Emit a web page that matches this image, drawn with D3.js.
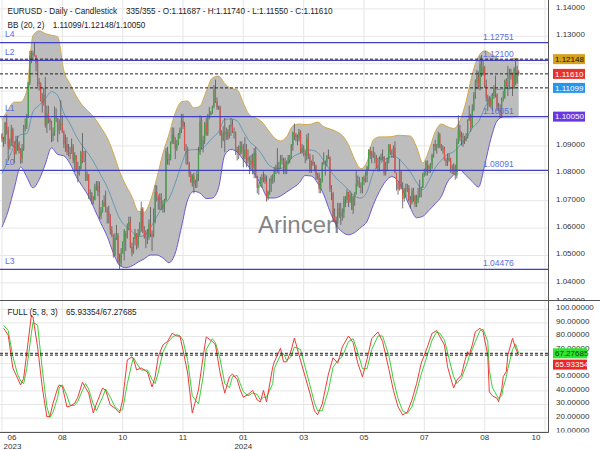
<!DOCTYPE html>
<html><head><meta charset="utf-8">
<script src="https://cdn.jsdelivr.net/npm/d3@7"></script>
<style>html,body{margin:0;padding:0;background:#fff;}svg{display:block;font-family:"Liberation Sans",Arial,sans-serif;}</style>
</head><body><svg id="c" width="600" height="450"></svg>
<script>
// ---------- data ----------
const firstOpen = 1.0940;
const highs = [
1.0945,1.0931,1.0985,1.1012,1.0968,1.0925,1.0975,1.0965,1.0915,1.0935,
1.0935,1.0915,1.0890,1.0905,1.0975,1.0998,1.1015,1.1130,1.1245,1.1245,
1.1245,1.1276,1.1230,1.1210,1.1145,1.1130,1.1090,1.1110,1.1150,1.1045,
1.1045,1.1000,1.0990,1.0965,1.1042,1.1035,1.1000,1.0995,1.1065,1.1010,
1.0955,1.0940,1.0930,1.0905,1.0895,1.0925,1.0905,1.0875,1.0865,1.0840,
1.0825,1.0880,1.0945,1.0880,1.0880,1.0805,1.0795,1.0740,1.0730,1.0715,
1.0760,1.0770,1.0770,1.0768,1.0675,1.0700,1.0718,1.0735,1.0675,1.0680,
1.0650,1.0605,1.0575,1.0580,1.0610,1.0580,1.0505,1.0525,1.0550,1.0595,
1.0580,1.0615,1.0640,1.0640,1.0545,1.0565,1.0595,1.0580,1.0595,1.0620,
1.0695,1.0675,1.0605,1.0590,1.0595,1.0630,1.0675,1.0590,1.0670,1.0755,
1.0755,1.0710,1.0725,1.0725,1.0700,1.0705,1.0890,1.0895,1.0870,1.0915,
1.0965,1.0965,1.0930,1.0920,1.0945,1.0965,1.1015,1.1015,1.0985,1.0905,
1.0895,1.0840,1.0805,1.0795,1.0800,1.0775,1.0810,1.0895,1.1010,1.1005,
1.0935,1.0985,1.1000,1.1015,1.1040,1.1025,1.1045,1.1120,1.1140,1.1075,
1.1045,1.1045,1.0955,1.0970,1.1000,1.0965,1.0960,1.0975,1.1000,1.0995,
1.0965,1.0950,1.0895,1.0900,1.0915,1.0915,1.0905,1.0930,1.0905,1.0885,
1.0860,1.0865,1.0870,1.0890,1.0895,1.0790,1.0765,1.0785,1.0795,1.0805,
1.0795,1.0790,1.0735,1.0780,1.0790,1.0795,1.0820,1.0830,1.0890,1.0840,
1.0865,1.0865,1.0855,1.0855,1.0845,1.0865,1.0865,1.0905,1.0950,1.0980,
1.0945,1.0940,1.0960,1.0955,1.0905,1.0900,1.0880,1.0940,1.0945,1.0870,
1.0845,1.0865,1.0840,1.0830,1.0800,1.0800,1.0780,1.0840,1.0875,1.0845,
1.0865,1.0885,1.0860,1.0755,1.0730,1.0670,1.0640,1.0690,1.0690,1.0690,
1.0670,1.0715,1.0715,1.0740,1.0730,1.0735,1.0725,1.0715,1.0730,1.0810,
1.0790,1.0785,1.0765,1.0785,1.0790,1.0805,1.0825,1.0885,1.0895,1.0880,
1.0895,1.0875,1.0865,1.0855,1.0860,1.0870,1.0885,1.0860,1.0840,1.0855,
1.0905,1.0895,1.0885,1.0900,1.0915,1.0800,1.0770,1.0850,1.0810,1.0765,
1.0745,1.0760,1.0760,1.0755,1.0715,1.0745,1.0745,1.0720,1.0720,1.0745,
1.0775,1.0750,1.0800,1.0815,1.0845,1.0845,1.0830,1.0835,1.0870,1.0905,
1.0920,1.0905,1.0950,1.0945,1.0905,1.0900,1.0895,1.0855,1.0870,1.0870,
1.0845,1.0830,1.0835,1.0830,1.0925,1.1010,1.0975,1.0950,1.0945,1.0935,
1.0945,1.0995,1.1045,1.1015,1.1050,1.1095,1.1140,1.1175,1.1170,1.1225,
1.1230,1.1210,1.1190,1.1140,1.1085,1.1080,1.1075,1.1090,1.1120,1.1155,
1.1090,1.1055,1.1050,1.1075,1.1100,1.1140,1.1145,1.1190,1.1180,1.1180,
1.1165,1.1185,1.1215,1.1190,1.1174];
const lows = [
1.0912,1.0895,1.0905,1.0940,1.0845,1.0885,1.0898,1.0895,1.0835,1.0870,
1.0880,1.0870,1.0833,1.0835,1.0880,1.0952,1.0960,1.1000,1.1120,1.1200,
1.1210,1.1225,1.1170,1.1115,1.1100,1.1060,1.1020,1.1045,1.0965,1.0945,
1.0980,1.0955,1.0912,1.0915,1.0935,1.0985,1.0912,1.0940,1.0955,1.0945,
1.0890,1.0877,1.0865,1.0860,1.0850,1.0870,1.0835,1.0803,1.0805,1.0765,
1.0790,1.0810,1.0835,1.0840,1.0770,1.0770,1.0705,1.0700,1.0685,1.0685,
1.0700,1.0735,1.0715,1.0632,1.0630,1.0655,1.0675,1.0655,1.0615,1.0615,
1.0575,1.0565,1.0490,1.0495,1.0555,1.0470,1.0448,1.0460,1.0505,1.0480,
1.0515,1.0560,1.0590,1.0525,1.0495,1.0505,1.0535,1.0520,1.0525,1.0570,
1.0585,1.0580,1.0560,1.0525,1.0540,1.0555,1.0565,1.0515,1.0565,1.0615,
1.0695,1.0665,1.0665,1.0665,1.0655,1.0655,1.0695,1.0830,1.0828,1.0845,
1.0905,1.0905,1.0850,1.0880,1.0900,1.0925,1.0945,1.0960,1.0880,1.0830,
1.0830,1.0785,1.0765,1.0750,1.0725,1.0745,1.0745,1.0770,1.0865,1.0885,
1.0875,1.0905,1.0935,1.0935,1.0995,1.1010,1.1015,1.1035,1.1055,1.1030,
1.1030,1.0935,1.0890,1.0915,1.0875,1.0920,1.0920,1.0925,1.0935,1.0945,
1.0925,1.0865,1.0845,1.0850,1.0865,1.0870,1.0820,1.0850,1.0820,1.0835,
1.0795,1.0815,1.0795,1.0780,1.0780,1.0725,1.0720,1.0750,1.0745,1.0765,
1.0760,1.0695,1.0700,1.0720,1.0730,1.0760,1.0765,1.0795,1.0800,1.0795,
1.0815,1.0830,1.0795,1.0795,1.0795,1.0830,1.0835,1.0850,1.0880,1.0920,
1.0915,1.0900,1.0915,1.0870,1.0870,1.0860,1.0835,1.0845,1.0850,1.0800,
1.0800,1.0825,1.0805,1.0775,1.0775,1.0725,1.0725,1.0765,1.0830,1.0790,
1.0825,1.0850,1.0730,1.0700,1.0620,1.0620,1.0600,1.0615,1.0635,1.0610,
1.0625,1.0635,1.0675,1.0690,1.0675,1.0690,1.0665,1.0650,1.0680,1.0720,
1.0750,1.0745,1.0725,1.0725,1.0755,1.0765,1.0765,1.0810,1.0850,1.0835,
1.0855,1.0835,1.0815,1.0805,1.0805,1.0840,1.0845,1.0790,1.0790,1.0810,
1.0835,1.0865,1.0855,1.0855,1.0800,1.0735,1.0720,1.0735,1.0740,1.0670,
1.0695,1.0710,1.0730,1.0695,1.0670,1.0685,1.0695,1.0675,1.0675,1.0690,
1.0710,1.0710,1.0745,1.0785,1.0790,1.0790,1.0800,1.0800,1.0815,1.0855,
1.0880,1.0870,1.0890,1.0890,1.0880,1.0870,1.0845,1.0825,1.0825,1.0840,
1.0800,1.0795,1.0795,1.0775,1.0780,1.0905,1.0915,1.0900,1.0895,1.0905,
1.0915,1.0925,1.0990,1.0950,1.0965,1.1025,1.1070,1.1105,1.1105,1.1100,
1.1150,1.1155,1.1110,1.1060,1.1025,1.1040,1.1035,1.1025,1.1070,1.1075,
1.1025,1.1025,1.1000,1.1000,1.1060,1.1070,1.1115,1.1080,1.1105,1.1140,
1.1080,1.1105,1.1120,1.1125,1.1155];
const closes = [
1.0922,1.0915,1.0983,1.0955,1.0894,1.0906,1.0959,1.0912,1.0867,1.0910,
1.0910,1.0882,1.0852,1.0889,1.0968,1.0970,1.1010,1.1130,1.1228,1.1230,
1.1237,1.1226,1.1200,1.1130,1.1125,1.1064,1.1055,1.1085,1.0975,1.1016,
1.0995,1.0985,1.0935,1.0945,1.1005,1.1000,1.0955,1.0975,1.0980,1.0947,
1.0905,1.0905,1.0875,1.0873,1.0870,1.0895,1.0845,1.0865,1.0810,1.0795,
1.0815,1.0877,1.0843,1.0842,1.0773,1.0795,1.0725,1.0725,1.0697,1.0699,
1.0748,1.0752,1.0730,1.0642,1.0659,1.0691,1.0680,1.0662,1.0660,1.0645,
1.0590,1.0570,1.0500,1.0565,1.0573,1.0475,1.0469,1.0506,1.0548,1.0588,
1.0564,1.0604,1.0620,1.0530,1.0509,1.0559,1.0577,1.0535,1.0578,1.0594,
1.0670,1.0590,1.0565,1.0565,1.0565,1.0616,1.0577,1.0568,1.0620,1.0730,
1.0720,1.0700,1.0710,1.0666,1.0684,1.0700,1.0880,1.0848,1.0850,1.0911,
1.0940,1.0910,1.0888,1.0905,1.0940,1.0955,1.0990,1.0970,1.0885,1.0885,
1.0835,1.0795,1.0765,1.0790,1.0760,1.0765,1.0795,1.0875,1.0990,1.0895,
1.0920,1.0980,1.0942,1.1010,1.1012,1.1020,1.1042,1.1105,1.1060,1.1038,
1.1040,1.0940,1.0920,1.0946,1.0940,1.0950,1.0930,1.0970,1.0975,1.0950,
1.0950,1.0880,1.0885,1.0875,1.0897,1.0885,1.0855,1.0885,1.0845,1.0855,
1.0830,1.0845,1.0818,1.0873,1.0785,1.0745,1.0755,1.0775,1.0780,1.0785,
1.0770,1.0710,1.0730,1.0770,1.0778,1.0778,1.0808,1.0820,1.0822,1.0820,
1.0850,1.0845,1.0840,1.0805,1.0838,1.0855,1.0855,1.0900,1.0948,1.0938,
1.0930,1.0925,1.0950,1.0880,1.0890,1.0870,1.0865,1.0925,1.0860,1.0808,
1.0840,1.0830,1.0825,1.0790,1.0790,1.0740,1.0770,1.0835,1.0835,1.0838,
1.0860,1.0855,1.0740,1.0725,1.0640,1.0625,1.0620,1.0670,1.0642,1.0655,
1.0655,1.0705,1.0700,1.0730,1.0695,1.0720,1.0665,1.0712,1.0727,1.0760,
1.0770,1.0753,1.0750,1.0782,1.0770,1.0790,1.0820,1.0885,1.0865,1.0870,
1.0855,1.0855,1.0820,1.0820,1.0847,1.0858,1.0858,1.0800,1.0830,1.0850,
1.0905,1.0875,1.0870,1.0890,1.0800,1.0765,1.0740,1.0805,1.0740,1.0705,
1.0735,1.0740,1.0745,1.0700,1.0690,1.0735,1.0715,1.0685,1.0700,1.0715,
1.0740,1.0745,1.0790,1.0810,1.0840,1.0825,1.0815,1.0830,1.0865,1.0905,
1.0895,1.0900,1.0940,1.0895,1.0885,1.0890,1.0845,1.0840,1.0845,1.0855,
1.0820,1.0815,1.0825,1.0790,1.0910,1.0955,1.0930,1.0920,1.0920,1.0918,
1.0930,1.0990,1.1010,1.0965,1.1030,1.1085,1.1130,1.1150,1.1115,1.1195,
1.1160,1.1185,1.1120,1.1075,1.1047,1.1070,1.1045,1.1080,1.1110,1.1085,
1.1040,1.1030,1.1010,1.1070,1.1075,1.1135,1.1115,1.1115,1.1160,1.1165,
1.1110,1.1180,1.1130,1.11687,1.11610];

// Bollinger bands (20,2)
const bbIdx = [0,4,8,12,16,20,24,28,32,36,40,44,48,52,56,60,64,68,72,76,80,84,88,92,96,100,104,108,112,116,120,124,128,132,136,140,144,148,152,156,160,164,168,172,176,180,184,188,192,196,200,204,208,212,216,220,224,228,232,236,240,244,248,252,256,260,264,268,272,276,280,284,288,292,296,300,304,308,312,316,320,324,328,332,334];
const bbUpper = [1.0993,1.1031,1.1058,1.1058,1.1100,1.1300,1.1318,1.1308,1.1302,1.1296,1.1172,1.1124,1.1080,1.1046,1.1023,1.0999,1.0965,1.0928,1.0872,1.0805,1.0755,1.0713,1.0660,1.0656,1.0700,1.0779,1.0870,1.0941,1.1018,1.1059,1.1062,1.1037,1.1044,1.1097,1.1146,1.1153,1.1126,1.1108,1.1103,1.1055,1.1011,1.1000,1.0986,1.0956,1.0928,1.0916,1.0932,1.0971,1.0978,1.0976,1.0978,1.0985,1.0968,1.0960,1.0951,1.0936,1.0902,1.0848,1.0815,1.0840,1.0920,1.0931,1.0931,1.0932,1.0937,1.0936,1.0934,1.0894,1.0836,1.0882,1.0949,1.0978,1.0968,1.0962,1.0990,1.1060,1.1160,1.1225,1.1245,1.1234,1.1219,1.1208,1.1212,1.1218,1.12148];
const bbLower = [1.0602,1.0661,1.0745,1.0821,1.0785,1.0745,1.0775,1.0832,1.0891,1.0867,1.0862,1.0833,1.0786,1.0750,1.0714,1.0665,1.0615,1.0568,1.0507,1.0462,1.0454,1.0460,1.0474,1.0486,1.0500,1.0500,1.0489,1.0472,1.0507,1.0602,1.0701,1.0732,1.0726,1.0706,1.0708,1.0746,1.0865,1.0885,1.0876,1.0847,1.0818,1.0789,1.0748,1.0708,1.0708,1.0715,1.0730,1.0745,1.0762,1.0790,1.0788,1.0763,1.0720,1.0659,1.0610,1.0584,1.0574,1.0582,1.0601,1.0623,1.0683,1.0732,1.0769,1.0786,1.0770,1.0724,1.0672,1.0636,1.0641,1.0663,1.0687,1.0714,1.0767,1.0792,1.0810,1.0790,1.0768,1.0748,1.0828,1.0924,1.0989,1.1004,1.1004,1.1005,1.1005];

// Full stochastic (5,8,3)
const stIdx = [1,4,7,10,12,14,16,19,20,23,26,29,31,33,36,37,39,42,44,47,49,52,54,56,59,61,65,67,70,73,76,78,81,84,85,87,90,94,97,99,101,104,107,110,113,115,117,120,123,127,130,132,136,138,141,144,147,149,152,154,156,159,162,165,167,169,171,175,176,180,182,184,187,189,193,196,199,202,204,207,211,214,217,220,224,227,230,233,236,239,243,246,250,253,256,259,262,265,268,271,275,278,281,283,286,288,291,292,294,297,299,301,302,304,306,309,311,314,315,317,320,321,323,324,326,327,330,332,334];
const stRed = [85.7,80.7,56.5,49,44,49,67.5,95.4,94,72,42.5,20.5,21,30.7,41.7,44,43,27.8,28.5,30.5,35,46,42,38,23.4,30,41.7,40,29.3,27,23.4,33,62.4,64.7,63,55,56.5,53.5,42.5,50,64.7,73.4,76,82,80,80,69.7,52.8,23.4,40.3,64.7,79.3,76,73.4,52.8,38,50,52,48,40.3,35,37,40,33,31.5,40,31.5,57.2,60.8,71,61,61,69.7,78.5,62,50,38,25,22,30,52,64,60,72,80,75,60,50,63,78,83,76,56,40,28,22,24,33,45,60,72,82,84,79.5,73.4,57.4,45.4,41.8,47.6,51.3,61,68.5,66,73.4,83.2,85.7,83,66,39,36,34.2,31.7,40.3,50.1,53.8,66,78.3,71,65.93354];
const stGreen = [88,84,65,52,47,45,56,82,90,88,56,28,20,24,35,42,44,36,29,29,32,40,45,41,30,25,35,41,35,28,25,26,45,60,64,60,55,55,48,45,53,68,75,79,81,80,77,62,36,30,50,70,78,75,63,45,42,50,51,45,39,36,38,37,33,35,35,45,56,66,67,62,65,72,70,57,44,31,25,25,40,57,62,65,76,78,68,56,56,70,80,80,66,48,34,25,23,28,39,52,66,77,83,82,77,68,54,50,45,49,55,61,65,70,76,84,85,76,55,42,36,34,36,42,50,56,70,74,67.27685];

const levelNames = ["L4","L2","L1","L0","L3"];
const levelValues = [1.12751,1.12100,1.10051,1.08091,1.04476];
const dashedPrices = [1.12148,1.11610,1.11099];
const priceBoxes = [1.12148,1.11610,1.11099,1.10050];
const priceBoxColors = ["#d6a11e","#e8312b","#2496ee","#6a38e0"];
const priceBoxText = ["#111","#fff","#fff","#fff"];
const priceTicks = [1.03,1.04,1.05,1.06,1.07,1.08,1.09,1.10,1.11,1.12,1.13,1.14];
const stochTicks = [10,20,30,40,50,60,70,80,90,100];
const stochLast = [67.27685,65.93354];
const monthIdx = [0,39,78,117,156,195,234,273,312,351];
const monthLabels = ["06","08","10","11","01","03","05","07","08","10"];
const yearIdx = [0,156];
const yearLabels = ["2023","2024"];

// ---------- drawing ----------
const svg = d3.select("#c");
const AX = 548.5;
const x = d3.scaleLinear().domain([0,334]).range([2,518.7]);
const y = d3.scaleLinear().domain([1.04,1.14]).range([282.4,8.4]);
const ys = d3.scaleLinear().domain([10,100]).range([431.2,308.8]);
const defs = svg.append("defs");
defs.append("clipPath").attr("id","cm").append("rect").attr("x",0).attr("y",0).attr("width",548).attr("height",300);
defs.append("clipPath").attr("id","cs").append("rect").attr("x",0).attr("y",301).attr("width",548).attr("height",131);
defs.append("clipPath").attr("id","lm").append("rect").attr("x",549).attr("y",0).attr("width",51).attr("height",301);
defs.append("clipPath").attr("id","ls").append("rect").attr("x",549).attr("y",301).attr("width",51).attr("height",131.5);

const gridC = "#e6e6e6";
// main grid
const gm = svg.append("g").attr("clip-path","url(#cm)");
gm.selectAll(".hg").data(priceTicks).join("line")
  .attr("x1",0).attr("x2",548).attr("y1",d=>y(d)+.5).attr("y2",d=>y(d)+.5).attr("stroke",gridC);
gm.selectAll(".vg").data(monthIdx).join("line")
  .attr("x1",d=>x(d)).attr("x2",d=>x(d)).attr("y1",0).attr("y2",300).attr("stroke",gridC);

// bands
const bb = bbIdx.map((i,k)=>({i,u:bbUpper[k],l:bbLower[k],m:(bbUpper[k]+bbLower[k])/2}));
const cv = d3.curveMonotoneX;
gm.append("path").datum(bb)
  .attr("d",d3.area().x(d=>x(d.i)).y0(d=>y(d.l)).y1(d=>y(d.u)).curve(cv))
  .attr("fill","#bdbdbd");
gm.append("path").datum(bb).attr("d",d3.line().x(d=>x(d.i)).y(d=>y(d.u)).curve(cv))
  .attr("fill","none").attr("stroke","#d2a94a").attr("stroke-width",1);
gm.append("path").datum(bb).attr("d",d3.line().x(d=>x(d.i)).y(d=>y(d.l)).curve(cv))
  .attr("fill","none").attr("stroke","#6a5ad8").attr("stroke-width",1);
gm.append("path").datum(bb).attr("d",d3.line().x(d=>x(d.i)).y(d=>y(d.m)).curve(cv))
  .attr("fill","none").attr("stroke","#4f8fb4").attr("stroke-width",0.8);

// watermark
gm.append("text").attr("x",258).attr("y",233).attr("font-size",24).attr("fill","#6e6e6e")
  .attr("fill-opacity",0.85).text("Arincen");

// candles
const candles = closes.map((c,i)=>({i,o:i?closes[i-1]:firstOpen,h:highs[i],l:lows[i],c}));
const gc = gm.append("g");
gc.selectAll(".w").data(candles).join("line")
  .attr("x1",d=>x(d.i)).attr("x2",d=>x(d.i)).attr("y1",d=>y(d.h)).attr("y2",d=>y(d.l))
  .attr("stroke","#555").attr("stroke-width",0.8);
gc.selectAll(".b").data(candles).join("rect")
  .attr("x",d=>x(d.i)-0.6).attr("width",1.2)
  .attr("y",d=>y(Math.max(d.o,d.c))).attr("height",d=>Math.max(0.8,Math.abs(y(d.o)-y(d.c))))
  .attr("fill",d=>d.c>=d.o?"#45a049":"#d9534f");

// levels
gm.selectAll(".lv").data(levelValues).join("line")
  .attr("x1",0).attr("x2",548).attr("y1",d=>y(d)).attr("y2",d=>y(d))
  .attr("stroke","#3f3fbf").attr("stroke-width",1.2);
gm.selectAll(".dl").data(dashedPrices).join("line")
  .attr("x1",0).attr("x2",548).attr("y1",d=>y(d)).attr("y2",d=>y(d))
  .attr("stroke","#222").attr("stroke-width",1).attr("stroke-dasharray","3,2");
gm.selectAll(".ln").data(levelNames).join("text")
  .attr("x",5).attr("y",(d,k)=>y(levelValues[k])-5.5).attr("font-size",8.5).attr("fill","#5a6ee0").text(d=>d);
gm.selectAll(".lvt").data(levelValues).join("text")
  .attr("x",483).attr("y",d=>y(d)-3).attr("font-size",8.5).attr("fill","#5a6ee0").text(d=>d.toFixed(5));

// header texts
const tc = "#222";
svg.append("text").attr("x",7.5).attr("y",14).attr("font-size",8.2).attr("fill",tc).text("EURUSD - Daily - Candlestick");
svg.append("text").attr("x",126).attr("y",14).attr("font-size",8.2).attr("fill",tc).text("335/355 - O:1.11687 - H:1.11740 - L:1.11550 - C:1.11610");
svg.append("text").attr("x",7.5).attr("y",28).attr("font-size",8.2).attr("fill",tc).text("BB (20, 2)");
svg.append("text").attr("x",52.7).attr("y",28).attr("font-size",8.2).attr("fill",tc).text("1.11099/1.12148/1.10050");

// lower panel
const gs = svg.append("g").attr("clip-path","url(#cs)");
gs.selectAll(".hg").data(stochTicks).join("line")
  .attr("x1",0).attr("x2",548).attr("y1",d=>ys(d)+.5).attr("y2",d=>ys(d)+.5).attr("stroke",gridC);
gs.selectAll(".vg").data(monthIdx).join("line")
  .attr("x1",d=>x(d)).attr("x2",d=>x(d)).attr("y1",300).attr("y2",432).attr("stroke",gridC);
const st = stIdx.map((i,k)=>({i,r:stRed[k],g:stGreen[k]}));
gs.append("path").datum(st).attr("d",d3.line().x(d=>x(d.i)).y(d=>ys(d.g)))
  .attr("fill","none").attr("stroke","#3ad13a").attr("stroke-width",1);
gs.append("path").datum(st).attr("d",d3.line().x(d=>x(d.i)).y(d=>ys(d.r)))
  .attr("fill","none").attr("stroke","#ef3b3b").attr("stroke-width",1);
gs.selectAll(".sd").data(stochLast).join("line")
  .attr("x1",0).attr("x2",548).attr("y1",d=>ys(d)).attr("y2",d=>ys(d))
  .attr("stroke","#222").attr("stroke-width",1).attr("stroke-dasharray","3,2");
svg.append("text").attr("x",7.5).attr("y",314.5).attr("font-size",8.2).attr("fill",tc).text("FULL (5, 8, 3)");
svg.append("text").attr("x",66).attr("y",314.5).attr("font-size",8.2).attr("fill",tc).text("65.93354/67.27685");

// axes lines
svg.append("line").attr("x1",AX).attr("x2",AX).attr("y1",0).attr("y2",432.5).attr("stroke","#555");
svg.append("line").attr("x1",0).attr("x2",AX).attr("y1",432.5).attr("y2",432.5).attr("stroke","#555");
svg.append("line").attr("x1",0).attr("x2",600).attr("y1",300.5).attr("y2",300.5).attr("stroke","#555");

// right price labels (labels hidden behind value boxes are not drawn)
const gl = svg.append("g").attr("clip-path","url(#lm)");
const visPrice = priceTicks.filter(p=>priceBoxes.every(b=>Math.abs(y(p)-1.5-y(b))>5));
gl.selectAll(".pl").data(visPrice).join("text")
  .attr("x",556).attr("y",d=>Math.min(y(d)-1.5,300)).attr("dy","0.35em")
  .attr("font-size",8).attr("fill","#333").text(d=>d.toFixed(5));
const pb = gl.selectAll(".pb").data(priceBoxes).join("g");
pb.append("rect").attr("x",553).attr("width",32).attr("y",d=>y(d)-5).attr("height",10)
  .attr("fill",(d,k)=>priceBoxColors[k]);
pb.append("text").attr("x",555).attr("y",d=>y(d)).attr("dy","0.35em").attr("font-size",8)
  .attr("fill",(d,k)=>priceBoxText[k]).text(d=>d.toFixed(5));

const gl2 = svg.append("g").attr("clip-path","url(#ls)");
const sbY = [ys(stochLast[0]), ys(stochLast[0])+11.3];
const visStoch = stochTicks.filter(v=>sbY.every(b=>Math.abs(ys(v)-1.5-b)>5));
gl2.selectAll(".sl").data(visStoch).join("text")
  .attr("x",556).attr("y",d=>ys(d)-1.5).attr("dy","0.35em")
  .attr("font-size",8).attr("fill","#333").text(d=>d.toFixed(5));
// stochastic value boxes (green = %D, red = %K, red pushed below)
const sbC = ["#2fe62f","#f02424"], sbT = ["#0a3a0a","#fff"];
stochLast.forEach((v,k)=>{
  gl2.append("rect").attr("x",553).attr("width",34).attr("y",sbY[k]-5).attr("height",10).attr("fill",sbC[k]);
  gl2.append("text").attr("x",555).attr("y",sbY[k]).attr("dy","0.35em").attr("font-size",8).attr("fill",sbT[k]).text(v.toFixed(5));
});

// month labels
svg.selectAll(".ml").data(monthIdx).join("text")
  .attr("x",d=>Math.max(12,Math.min(536,x(d)))).attr("y",440).attr("text-anchor","middle")
  .attr("font-size",8).attr("fill","#333").text((d,k)=>monthLabels[k]);
svg.selectAll(".yl").data(yearIdx).join("text")
  .attr("x",d=>Math.max(12.5,x(d))).attr("y",448.5).attr("text-anchor","middle")
  .attr("font-size",8).attr("fill","#333").text((d,k)=>yearLabels[k]);
</script></body></html>
